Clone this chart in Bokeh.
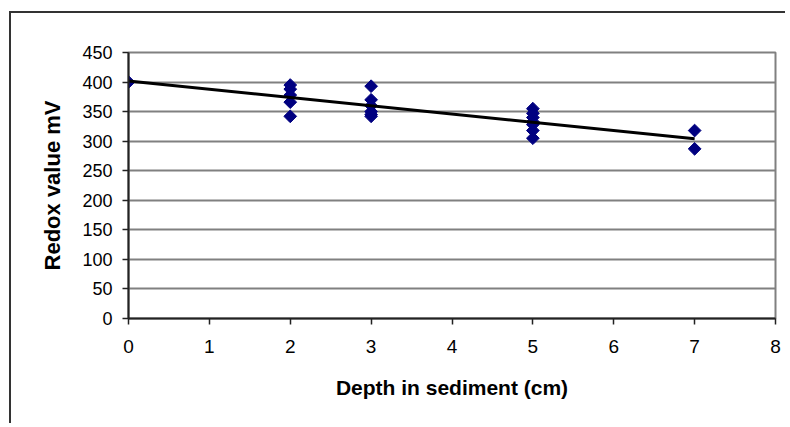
import numpy as np
from bokeh.plotting import figure
from bokeh.models import FixedTicker, Range1d
from bokeh.embed import file_html
from bokeh.resources import INLINE

# Data
depth_cm = [0,
            2, 2, 2, 2, 2,
            3, 3, 3, 3, 3, 3,
            5, 5, 5, 5, 5, 5, 5,
            7, 7]
redox_mv = [400,
            395, 388, 378, 366, 342,
            393, 370, 360, 350, 345, 342,
            355, 347, 340, 333, 328, 318, 305,
            318, 287]
x_ticks = [0, 1, 2, 3, 4, 5, 6, 7, 8]
y_ticks = [0, 50, 100, 150, 200, 250, 300, 350, 400, 450]

W, H = 776, 412
p = figure(width=W, height=H, output_backend="svg", toolbar_location=None,
           x_range=Range1d(0, 8), y_range=Range1d(0, 450),
           min_border_left=117, min_border_right=12,
           min_border_top=39, min_border_bottom=107)
p.styles = {"border-top": "2px solid #333333", "border-left": "2px solid #333333",
            "margin-left": "9px", "margin-top": "11px"}

p.background_fill_color = "white"
p.border_fill_color = "white"
p.outline_line_color = "#808080"
p.outline_line_width = 2

p.xgrid.grid_line_color = None
p.ygrid.grid_line_color = "#808080"
p.ygrid.grid_line_width = 2

p.xaxis.ticker = FixedTicker(ticks=x_ticks)
p.yaxis.ticker = FixedTicker(ticks=y_ticks)
p.xaxis.minor_tick_line_color = None
p.yaxis.minor_tick_line_color = None
for ax in (p.xaxis, p.yaxis):
    ax.axis_line_color = "#222222"
    ax.axis_line_width = 2
    ax.major_tick_line_color = "#222222"
    ax.major_tick_line_width = 1.5
    ax.major_tick_in = 0
    ax.major_tick_out = 6
    ax.major_label_text_color = "black"
    ax.major_label_text_font = "Liberation Sans"
    ax.axis_label_text_color = "black"
    ax.axis_label_text_font = "Liberation Sans"
    ax.axis_label_text_font_style = "bold"

p.yaxis.major_label_text_font_size = "18px"
p.yaxis.major_label_standoff = 10
p.xaxis.major_label_text_font_size = "19px"
p.xaxis.major_label_standoff = 15

p.xaxis.axis_label = "Depth in sediment (cm)"
p.xaxis.axis_label_text_font_size = "21px"
p.xaxis.axis_label_standoff = 20
p.yaxis.axis_label = "Redox value mV"
p.yaxis.axis_label_text_font_size = "22px"
p.yaxis.axis_label_standoff = 14

p.scatter(depth_cm, redox_mv, marker="square", angle=np.pi / 4, size=9,
          fill_color="#000080", line_color="#000080")

slope, intercept = np.polyfit(depth_cm, redox_mv, 1)
xs = [min(depth_cm), max(depth_cm)]
p.line(xs, [intercept + slope * x for x in xs], line_color="black", line_width=3)

open("out.html", "w").write(file_html(p, INLINE))
